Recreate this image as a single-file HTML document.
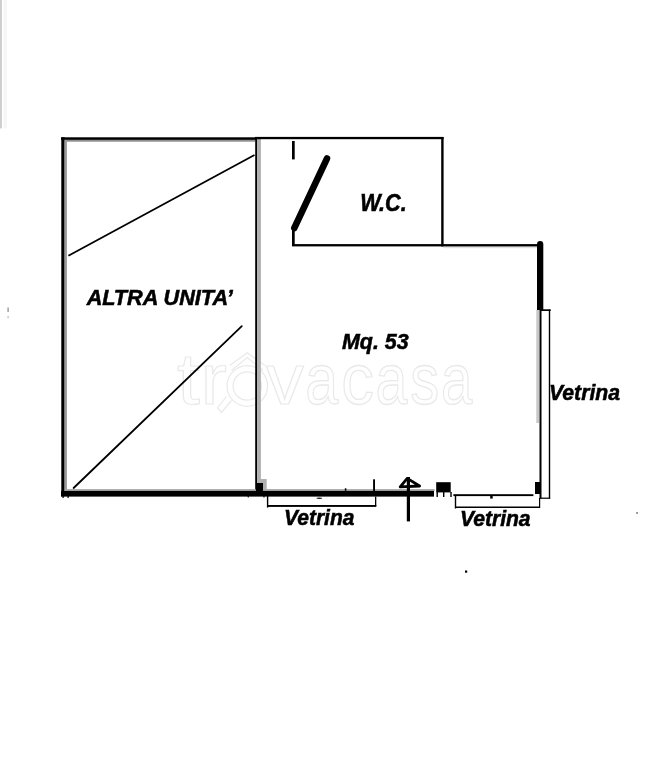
<!DOCTYPE html>
<html>
<head>
<meta charset="utf-8">
<style>
html,body{margin:0;padding:0;background:#fff;width:652px;height:768px;overflow:hidden;}
svg{position:absolute;left:0;top:0;display:block;will-change:transform;}
text{font-family:"Liberation Sans",sans-serif;font-weight:bold;font-style:italic;fill:#000;stroke:#000;stroke-width:0.55;}
.wm{font-family:"Liberation Sans",sans-serif;font-weight:normal;font-style:normal;fill:none;stroke:#e9e9e9;stroke-width:1.2;}
</style>
</head>
<body>
<svg width="652" height="768" viewBox="0 0 652 768">
  <!-- watermark -->
  <g fill="none" stroke="#e9e9e9" stroke-width="1.2">
  <text class="wm" vector-effect="non-scaling-stroke" transform="translate(177.00,404) scale(1.150,1)" font-size="72">t</text>
  <text class="wm" vector-effect="non-scaling-stroke" transform="translate(200.60,404) scale(1.100,1)" font-size="72">r</text>
  <text class="wm" vector-effect="non-scaling-stroke" transform="translate(266.05,404) scale(1.053,1)" font-size="72">v</text>
  <text class="wm" vector-effect="non-scaling-stroke" transform="translate(305.36,404) scale(0.821,1)" font-size="72">a</text>
  <text class="wm" vector-effect="non-scaling-stroke" transform="translate(341.18,404) scale(0.909,1)" font-size="72">c</text>
  <text class="wm" vector-effect="non-scaling-stroke" transform="translate(375.41,404) scale(0.795,1)" font-size="72">a</text>
  <text class="wm" vector-effect="non-scaling-stroke" transform="translate(410.20,404) scale(0.803,1)" font-size="72">s</text>
  <text class="wm" vector-effect="non-scaling-stroke" transform="translate(440.94,404) scale(0.782,1)" font-size="72">a</text>
  <circle cx="247.3" cy="386" r="20.3"/>
  <circle cx="247.3" cy="386" r="14.2"/>
  <polyline points="229.7,365.4 247.3,352.7 264.9,365.4"/>
  <polyline points="231.5,370.5 247.3,357.5 263.1,370.5"/>
  <polyline points="226.5,396.5 217.5,408 221.5,412.5 231.5,400.5"/>
  </g>

  <!-- faint bar top-left -->
  <rect x="0" y="0" width="1.9" height="128.4" fill="#cdcdcd"/>
  <rect x="3.6" y="0" width="3.2" height="128.4" fill="#f6f6f6"/>
  <rect x="7.4" y="307.5" width="1.4" height="4.5" fill="#9a9a9a"/>
  <rect x="7.4" y="316" width="1.4" height="2.4" fill="#c8c8c8"/>

  <!-- LEFT ROOM -->
  <rect x="61" y="137.3" width="196" height="2.6" fill="#000"/>
  <rect x="64.6" y="139.9" width="190.7" height="1.8" fill="#8e8e8e"/>
  <rect x="61.3" y="137.3" width="3.3" height="359" fill="#000"/>
  <rect x="64.6" y="139.9" width="2.3" height="349.3" fill="#9a9a9a"/>
  <!-- middle wall -->
  <rect x="255.2" y="137" width="2" height="354" fill="#000"/>
  <rect x="257.2" y="139" width="3.7" height="344" fill="#b0b0b0"/>
  <!-- diagonals -->
  <line x1="68.4" y1="255.7" x2="254.5" y2="155" stroke="#000" stroke-width="1.8"/>
  <line x1="73.6" y1="488" x2="241.8" y2="326.1" stroke="#000" stroke-width="1.8" stroke-linecap="round"/>

  <!-- bottom wall -->
  <rect x="64.6" y="489.2" width="370" height="1.8" fill="#9c9c9c"/>
  <rect x="61" y="491" width="373" height="5.6" fill="#000"/>
  <!-- left block at middle wall -->
  <rect x="261" y="479" width="5.7" height="10.5" fill="#b0b0b0"/>
  <rect x="256" y="483" width="7" height="8" fill="#000"/>

  <!-- RIGHT ROOM top -->
  <rect x="255" y="136.9" width="188.6" height="2.3" fill="#000"/>
  <!-- WC right wall -->
  <rect x="441.2" y="137" width="2.4" height="109.5" fill="#000"/>
  <!-- WC bottom + continuation -->
  <rect x="443" y="246.2" width="94" height="2" fill="#e2e2e2"/>
  <rect x="292" y="244.1" width="248" height="2.3" fill="#000"/>
  <!-- door -->
  <rect x="292" y="141" width="2.7" height="18.4" fill="#000"/>
  <line x1="327" y1="158.5" x2="294.3" y2="228" stroke="#000" stroke-width="6.5" stroke-linecap="round"/>
  <rect x="292" y="228" width="2.7" height="18" fill="#000"/>

  <!-- right thick wall -->
  <path d="M537,310 V244.15 A3.15,3.15 0 0 1 543.3,244.15 V310 Z" fill="#000"/>
  <!-- double thin wall -->
  <rect x="536.3" y="310" width="2.7" height="113" fill="#c8c8c8"/>
  <rect x="539.5" y="309" width="2" height="189.5" fill="#000"/>
  <rect x="541" y="309.3" width="9.7" height="1.7" fill="#000"/>
  <rect x="548.8" y="309.5" width="1.4" height="189" fill="#000"/>
  <rect x="540" y="497.6" width="10.2" height="1.2" fill="#000"/>
  <rect x="535" y="482" width="6" height="12" fill="#000"/>

  <!-- bottom right segment -->
  <rect x="436.2" y="482.2" width="14.5" height="10.2" fill="#000"/>
  <rect x="436.5" y="492" width="1.4" height="5" fill="#000"/>
  <rect x="443" y="492" width="1.4" height="5" fill="#000"/>
  <rect x="450.3" y="492" width="1.4" height="5" fill="#000"/>
  <rect x="453.4" y="494.2" width="80" height="1.9" fill="#000"/>

  <!-- dimension line 1 -->
  <rect x="266.9" y="496" width="1.4" height="11.6" fill="#000"/>
  <rect x="267" y="505" width="109.3" height="1.9" fill="#000"/>
  <rect x="375" y="496.6" width="1.3" height="9.5" fill="#000"/>
  <rect x="373.1" y="479.3" width="1.9" height="12" fill="#000"/>
  <rect x="344.8" y="488.3" width="1.6" height="2.5" fill="#000"/>

  <!-- dimension line 2 -->
  <rect x="454.8" y="496" width="1.4" height="12.5" fill="#000"/>
  <rect x="455" y="506.5" width="84.5" height="1.5" fill="#000"/>
  <rect x="539" y="498" width="1.2" height="10" fill="#000"/>

  <!-- entrance arrow -->
  <polygon points="407.2,478.4 400.2,486.8 419.6,486" fill="none" stroke="#000" stroke-width="2.8" stroke-linejoin="round"/>
  <rect x="406.8" y="477" width="3.2" height="44.4" fill="#000"/>

  <rect x="490.2" y="495" width="2.5" height="3.6" fill="#000"/>
  <ellipse cx="319.3" cy="498.3" rx="3" ry="0.7" fill="#222"/>
  <rect x="62.5" y="495" width="1.2" height="3" fill="#000"/>
  <rect x="67.5" y="495" width="1.2" height="3" fill="#000"/>
  <rect x="247.7" y="495" width="1.1" height="2.5" fill="#000"/>
  <rect x="263.4" y="495" width="1.1" height="2.5" fill="#000"/>
  <!-- dots -->
  <rect x="465" y="570.5" width="2.2" height="2.2" fill="#000"/>
  <rect x="636.3" y="512.2" width="1.5" height="1.5" fill="#555"/>

  <!-- texts -->
  <text x="86.65" y="305" font-size="21.7" textLength="146.2" lengthAdjust="spacingAndGlyphs">ALTRA UNITA’</text>
  <text x="360.3" y="210.7" font-size="23" textLength="46.4" lengthAdjust="spacingAndGlyphs">W.C.</text>
  <text x="341.9" y="348.5" font-size="22.57" textLength="66.8" lengthAdjust="spacingAndGlyphs">Mq. 53</text>
  <text x="549" y="399.8" font-size="22.43" textLength="71" lengthAdjust="spacingAndGlyphs">Vetrina</text>
  <text x="284" y="524.5" font-size="22.43" textLength="70.4" lengthAdjust="spacingAndGlyphs">Vetrina</text>
  <text x="459.9" y="526.1" font-size="21.86" textLength="70.7" lengthAdjust="spacingAndGlyphs">Vetrina</text>
</svg>
</body>
</html>
